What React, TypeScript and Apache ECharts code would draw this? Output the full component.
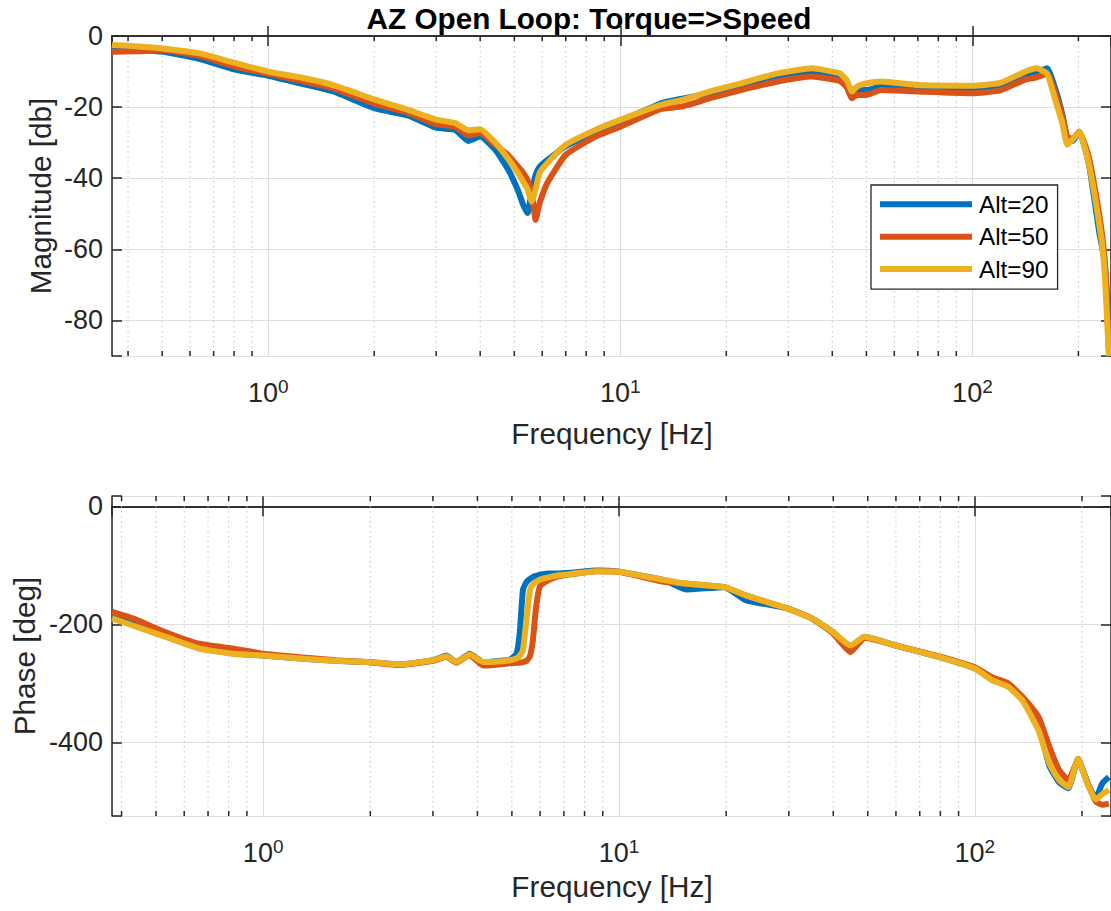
import React, { useEffect, useRef } from "react";
import * as echarts from "echarts";

// ---------------- data ----------------
const seriesNames = ["Alt=20", "Alt=50", "Alt=90"];
const seriesColors = ["#0072BD", "#D95319", "#EDB120"];

// Magnitude (dB) vs frequency (Hz)
const magFreq = [
  0.36, 0.42, 0.5, 0.64, 0.8, 1.0, 1.23, 1.53, 2.0, 2.5,
  3.0, 3.4, 3.7, 4.0, 4.4,
  4.8, 5.1, 5.3, 5.45, 5.6,
  5.75, 5.9, 6.2, 7.0, 8.5,
  10, 13, 15, 18, 22,
  28, 35, 42, 44, 45.5,
  47, 50, 55, 70, 100,
  120, 140, 152, 163, 172,
  180, 186, 193, 201, 214,
  229, 236, 240, 244,
];
const magAlt20 = [
  -3.0, -3.8, -4.4, -6.5, -9.4, -11.2, -13.3, -15.6, -20.3, -22.4,
  -25.8, -26.4, -29.5, -28.3, -31.8,
  -37.5, -43, -47.5, -49.8, -44,
  -39, -36.8, -34.9, -31, -27,
  -24, -19.0, -17.6, -16.1, -14.2,
  -11.9, -10.5, -11.3, -13, -15.6,
  -15.0, -15.2, -14.2, -14.4, -14.7,
  -14, -11, -10.2, -9.1, -14.9,
  -22, -29, -29.5, -26.9, -35.8,
  -55, -62, -70, -88,
];
const magAlt50 = [
  -4.4, -4.3, -4.0, -5.6, -8.5, -10.6, -12.5, -14.7, -19.0, -21.6,
  -24.8, -25.5, -28.0, -27.3, -30.5,
  -33.5, -36.5, -38.5, -40.5, -44,
  -51.7, -47, -41.4, -33.4, -28.3,
  -25.5, -20.6, -19.8, -17.5, -15.2,
  -12.8, -11.4, -12.6, -14.5, -17.5,
  -16.6, -16.6, -15.2, -15.6, -16.1,
  -15.3, -12.4, -11.6, -10.6, -16.1,
  -22.7, -28.3, -29, -26.9, -34,
  -50, -60, -70, -88,
];
const magAlt90 = [
  -2.5, -2.9, -3.5, -4.9, -7.5, -10.0, -11.6, -13.8, -17.8, -20.8,
  -23.5, -24.5, -26.5, -26.2, -29.8,
  -34.5, -38.3, -41, -43, -46.6,
  -43, -38.5, -35.8, -30.6, -26.4,
  -23.6, -19.4, -18, -15.6, -13.3,
  -10.5, -9.1, -10.5, -12.5, -15.6,
  -14.2, -13.3, -12.8, -13.8, -14.0,
  -13.2, -10.2, -9.1, -10.6, -18,
  -24.5, -30.6, -29, -26.9, -35.8,
  -52.6, -63, -75, -90,
];

// Phase (deg) vs frequency (Hz)
const phFreq = [
  0.376, 0.43, 0.53, 0.66, 0.82, 1.0, 1.27, 1.6, 1.95, 2.42,
  3.0, 3.27, 3.49, 3.8, 4.15,
  4.6, 4.93, 5.15, 5.26, 5.37,
  5.5, 5.62, 5.72, 5.85, 6.0,
  6.38, 6.81, 8.7, 10, 13.4,
  15.4, 19.8, 22.7, 29.7, 34.8,
  39.9, 44.7, 49, 60, 78.8,
  100, 112, 124, 136, 151,
  162, 172.5, 183, 195, 207,
  218.6, 228, 238,
];
const phAlt20 = [
  -186, -200, -220, -240, -249, -253, -258, -262, -264, -268,
  -261, -253, -264, -250, -264,
  -262, -260, -250, -215, -142,
  -128, -123, -120, -118, -116,
  -114, -114, -109, -111, -125,
  -141, -137, -159, -173, -190,
  -213, -238, -221, -236, -255,
  -275, -293, -305, -326, -374,
  -440, -468, -478, -428, -468,
  -495, -470, -459,
];
const phAlt50 = [
  -179, -190, -213, -233, -241, -250, -256, -261, -264, -269,
  -262, -255, -265, -252, -270,
  -268, -266, -265, -265, -264,
  -262, -254, -230, -170, -135,
  -124, -118, -110, -111, -128,
  -131, -137, -151, -173, -190,
  -215, -247, -223, -236, -254,
  -273, -290, -300, -323, -357,
  -408, -447, -464, -430, -468,
  -500, -506, -504,
];
const phAlt90 = [
  -190, -202, -221, -241, -250, -253, -258, -262, -264, -268,
  -261, -254, -264, -251, -264,
  -263, -261, -258, -253, -244,
  -190, -142, -133, -128, -124,
  -120, -117, -110, -111, -125,
  -131, -137, -151, -173, -190,
  -213, -236, -221, -236, -255,
  -275, -295, -306, -329, -380,
  -436, -464, -476, -428, -470,
  -497, -488, -481,
];

// minor log-decade positions (Hz)
const minorFreq = [
  0.4, 0.5, 0.6, 0.7, 0.8, 0.9,
  2, 3, 4, 5, 6, 7, 8, 9,
  20, 30, 40, 50, 60, 70, 80, 90,
  200,
];

// axis limits
const magXRange = [0.3601, 247.5];
const phXRange = [0.376, 241.3];
const magYRange = [-90, 0];
const phYRange = [-525, 17.5];
const magYStep = 20;
const phYStep = 200;

// ---------------- style ----------------
const FONT = "'Liberation Sans', Arial, Helvetica, sans-serif";
const AX = "#262626";
const GRID_MAJOR = "#dedede";
const GRID_MINOR = "#c4c4c4";

function pairs(xs: number[], ys: number[]) {
  return xs.map((x, i) => [x, ys[i]]);
}

function xLabel(v: number) {
  const l = Math.log10(v);
  const r = Math.round(l);
  return Math.abs(l - r) < 1e-6 ? `{b|10}{s|${r}}` : "";
}

function makeXAxes(gridIndex: number, range: number[]) {
  const common = {
    type: "log",
    logBase: 10,
    gridIndex,
    min: range[0],
    max: range[1],
    axisLine: { show: true, lineStyle: { color: AX, width: 1.5 } },
    axisTick: { show: true, inside: true, length: 10, lineStyle: { color: AX, width: 1.5 } },
    minorTick: { show: false },
  };
  return [
    {
      ...common,
      position: "bottom",
      splitLine: { show: true, lineStyle: { color: GRID_MAJOR, width: 1.2 } },
      axisLabel: {
        show: true,
        margin: 20.5,
        showMinLabel: false,
        showMaxLabel: false,
        formatter: xLabel,
        color: AX,
        fontFamily: FONT,
        rich: {
          b: { fontSize: 27, lineHeight: 32, color: AX, fontFamily: FONT },
          s: { fontSize: 19, lineHeight: 11, verticalAlign: "top", color: AX, fontFamily: FONT },
        },
      },
    },
    {
      ...common,
      position: "top",
      splitLine: { show: false },
      axisLabel: { show: false },
    },
  ];
}

function makeYAxes(gridIndex: number, range: number[], step: number) {
  const common = {
    type: "value",
    gridIndex,
    min: range[0],
    max: range[1],
    minInterval: step,
    maxInterval: step,
    axisLine: { show: true, lineStyle: { color: AX, width: 1.5 } },
    axisTick: { show: true, inside: true, length: 10, lineStyle: { color: AX, width: 1.5 } },
  };
  return [
    {
      ...common,
      position: "left",
      splitLine: { show: true, lineStyle: { color: GRID_MAJOR, width: 1.2 } },
      axisLabel: {
        show: true,
        margin: 9,
        fontSize: 27,
        color: AX,
        fontFamily: FONT,
        showMinLabel: true,
        showMaxLabel: true,
        formatter: (v: number) => (Math.abs(v % step) < 1e-9 ? String(v) : ""),
      },
    },
    {
      ...common,
      position: "right",
      splitLine: { show: false },
      axisLabel: { show: false },
    },
  ];
}

function minorSeries(xAxisIndex: number, yAxisIndex: number, range: number[]) {
  return {
    type: "custom",
    xAxisIndex,
    yAxisIndex,
    silent: true,
    z: 1,
    data: minorFreq.filter((f) => f > range[0] && f < range[1]).map((f) => [f, 0]),
    renderItem: (params: any, api: any) => {
      const cs = params.coordSys;
      const x = api.coord([api.value(0), api.value(1)])[0];
      const top = cs.y;
      const bottom = cs.y + cs.height;
      return {
        type: "group",
        children: [
          {
            type: "line",
            shape: { x1: x, y1: top, x2: x, y2: bottom },
            style: { stroke: GRID_MINOR, lineWidth: 1, lineDash: [1.5, 3.5] },
          },
          {
            type: "line",
            shape: { x1: x, y1: bottom, x2: x, y2: bottom - 5 },
            style: { stroke: AX, lineWidth: 1.5 },
          },
          {
            type: "line",
            shape: { x1: x, y1: top, x2: x, y2: top + 5 },
            style: { stroke: AX, lineWidth: 1.5 },
          },
        ],
      };
    },
  };
}

function lineSeries(name: string, color: string, data: number[][], xAxisIndex: number, yAxisIndex: number) {
  return {
    type: "line",
    name,
    xAxisIndex,
    yAxisIndex,
    data,
    showSymbol: false,
    symbol: "none",
    smooth: 0.15,
    z: 3,
    lineStyle: { color, width: 6 },
    itemStyle: { color },
    emphasis: { disabled: true },
  };
}

export default function App() {
  const ref = useRef<HTMLDivElement>(null);

  useEffect(() => {
    if (!ref.current) return;
    const chart = echarts.init(ref.current, undefined, { renderer: "svg" });

    const magData = [magAlt20, magAlt50, magAlt90];
    const phData = [phAlt20, phAlt50, phAlt90];

    const option: any = {
      animation: false,
      backgroundColor: "#ffffff",
      textStyle: { fontFamily: FONT },
      grid: [
        { left: 112, top: 36, width: 1000, height: 320, containLabel: false },
        { left: 112, top: 496, width: 1000, height: 320, containLabel: false },
      ],
      xAxis: [...makeXAxes(0, magXRange), ...makeXAxes(1, phXRange)],
      yAxis: [...makeYAxes(0, magYRange, magYStep), ...makeYAxes(1, phYRange, phYStep)],
      legend: {
        data: seriesNames,
        orient: "vertical",
        left: 871,
        top: 185,
        icon: "rect",
        itemWidth: 92,
        itemHeight: 6,
        itemGap: 6.4,
        padding: [6.3, 9, 7, 9],
        backgroundColor: "#ffffff",
        borderColor: AX,
        borderWidth: 1.3,
        borderRadius: 0,
        selectedMode: false,
        textStyle: {
          fontSize: 24.3,
          lineHeight: 26,
          color: "#000000",
          fontFamily: FONT,
          padding: [0, 0, 0, 2],
        },
      },
      graphic: [
        {
          type: "text",
          x: 589,
          y: 18,
          style: {
            text: "AZ Open Loop: Torque=>Speed",
            fontSize: 29.7,
            fontWeight: "bold",
            fontFamily: FONT,
            fill: "#000000",
            align: "center",
            verticalAlign: "middle",
          },
        },
        {
          type: "text",
          x: 612,
          y: 433,
          style: {
            text: "Frequency [Hz]",
            fontSize: 29.7,
            fontFamily: FONT,
            fill: AX,
            align: "center",
            verticalAlign: "middle",
          },
        },
        {
          type: "text",
          x: 612,
          y: 886,
          style: {
            text: "Frequency [Hz]",
            fontSize: 29.7,
            fontFamily: FONT,
            fill: AX,
            align: "center",
            verticalAlign: "middle",
          },
        },
        {
          type: "text",
          x: 40,
          y: 196,
          rotation: Math.PI / 2,
          style: {
            text: "Magnitude [db]",
            fontSize: 29.7,
            fontFamily: FONT,
            fill: AX,
            align: "center",
            verticalAlign: "middle",
          },
        },
        {
          type: "text",
          x: 24,
          y: 656,
          rotation: Math.PI / 2,
          style: {
            text: "Phase [deg]",
            fontSize: 29.7,
            fontFamily: FONT,
            fill: AX,
            align: "center",
            verticalAlign: "middle",
          },
        },
      ],
      series: [
        minorSeries(0, 0, magXRange),
        ...seriesNames.map((n, i) => lineSeries(n, seriesColors[i], pairs(magFreq, magData[i]), 0, 0)),
        minorSeries(2, 2, phXRange),
        ...seriesNames.map((n, i) => lineSeries(n, seriesColors[i], pairs(phFreq, phData[i]), 2, 2)),
      ],
    };

    chart.setOption(option);
    return () => {
      chart.dispose();
    };
  }, []);

  return (
    <div
      ref={ref}
      style={{ position: "fixed", left: 0, top: 0, width: 1111, height: 911, background: "#fff" }}
    />
  );
}
